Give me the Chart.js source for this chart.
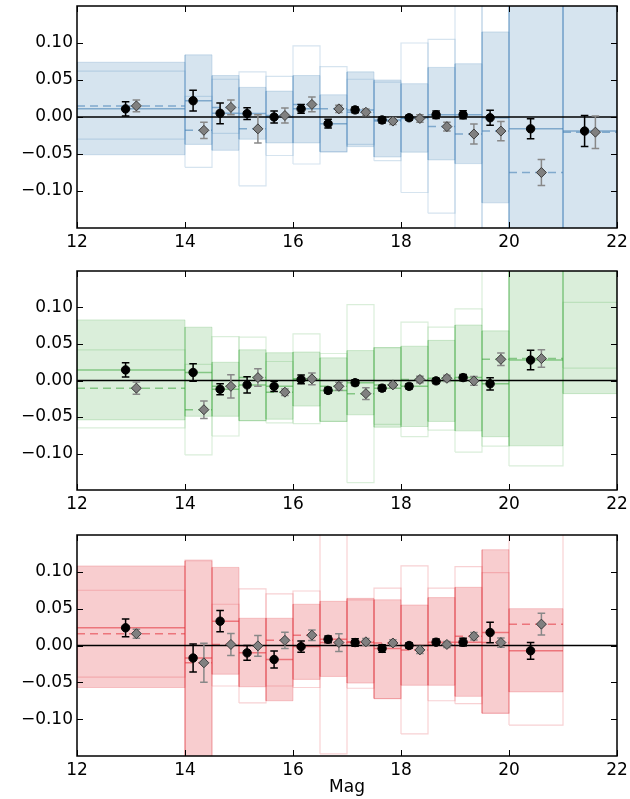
<!DOCTYPE html>
<html>
<head>
<meta charset="utf-8">
<script src="https://cdn.jsdelivr.net/npm/chart.js@4.4.1/dist/chart.umd.min.js"></script>
<style>
  body { margin:0; background:#fff; width:630px; height:799px; position:relative; overflow:hidden; }
  .panel { position:absolute; left:0; width:630px; }
</style>
</head>
<body>
<div class="panel" style="top:0px"><canvas id="c1" width="630" height="258"></canvas></div>
<div class="panel" style="top:265px"><canvas id="c2" width="630" height="255"></canvas></div>
<div class="panel" style="top:529px"><canvas id="c3" width="630" height="270"></canvas></div>
<script>
const binEdges = [12, 14, 14.5, 15, 15.5, 16, 16.5, 17, 17.5, 18, 18.5, 19, 19.5, 20, 21, 22];
const xTicks = [12, 14, 16, 18, 20, 22];
const yTicks = [-0.10, -0.05, 0, 0.05, 0.10];

// top panel (blue)
const blueFillLo = [-0.051, -0.037, -0.045, -0.030, -0.035, -0.035, -0.047, -0.040, -0.054, -0.0475, -0.058, -0.063, -0.116, -0.3, -0.3];
const blueFillHi = [0.074, 0.084, 0.056, 0.040, 0.035, 0.056, 0.030, 0.061, 0.050, 0.045, 0.067, 0.072, 0.115, 0.3, 0.3];
const blueBoxLo = [-0.030, -0.068, -0.022, -0.093, -0.052, -0.0635, -0.047, -0.037, -0.059, -0.102, -0.130, -0.3, -0.3, -0.3, -0.3];
const blueBoxHi = [0.062, 0.028, 0.051, 0.061, 0.055, 0.096, 0.068, 0.051, 0.047, 0.100, 0.105, 0.3, 0.3, 0.3, 0.3];
const blueDotY = [0.011, 0.022, 0.005, 0.0046, 0.0, 0.011, -0.009, 0.0096, -0.004, -0.001, 0.003, 0.003, -0.001, -0.016, -0.019];
const blueDotErr = [0.0096, 0.014, 0.014, 0.008, 0.008, 0.006, 0.006, 0.004, 0.004, 0.0035, 0.005, 0.0055, 0.010, 0.0135, 0.021];
const blueDiaY = [0.015, -0.018, 0.013, -0.016, 0.002, 0.017, 0.011, 0.0064, -0.0055, -0.002, -0.013, -0.023, -0.019, -0.075, -0.0205];
const blueDiaErr = [0.008, 0.011, 0.010, 0.019, 0.010, 0.010, 0.005, 0.0045, 0.0045, 0.005, 0.006, 0.0135, 0.013, 0.0175, 0.022];

// middle panel (green)
const greenFillLo = [-0.054, -0.049, -0.049, -0.055, -0.053, -0.035, -0.056, -0.047, -0.064, -0.063, -0.056, -0.069, -0.077, -0.0895, -0.018];
const greenFillHi = [0.083, 0.073, 0.025, 0.042, 0.038, 0.039, 0.031, 0.041, 0.045, 0.047, 0.055, 0.076, 0.068, 0.3, 0.3];
const greenBoxLo = [-0.065, -0.102, -0.076, -0.055, -0.058, -0.059, -0.056, -0.140, -0.060, -0.077, -0.068, -0.098, -0.090, -0.117, 0.017];
const greenBoxHi = [0.042, 0.022, 0.060, 0.0595, 0.026, 0.064, 0.037, 0.104, 0.045, 0.080, 0.073, 0.098, 0.3, 0.3, 0.107];
const greenDotY = [0.0145, 0.011, -0.012, -0.006, -0.008, 0.0014, -0.0136, -0.003, -0.0105, -0.008, -0.0005, 0.004, -0.0045, 0.028, null];
const greenDotErr = [0.0098, 0.012, 0.0075, 0.011, 0.007, 0.006, 0.004, 0.004, 0.004, 0.0036, 0.0036, 0.0043, 0.0084, 0.0133, null];
const greenDiaY = [-0.0105, -0.040, -0.008, 0.004, -0.016, 0.0023, -0.008, -0.018, -0.006, 0.0014, 0.003, -0.0005, 0.029, 0.030, null];
const greenDiaErr = [0.0085, 0.012, 0.016, 0.012, 0.0045, 0.008, 0.0055, 0.008, 0.004, 0.0045, 0.0043, 0.006, 0.0086, 0.012, null];

// bottom panel (red)
const redFillLo = [-0.057, -0.3, -0.039, -0.056, -0.075, -0.046, -0.042, -0.051, -0.072, -0.054, -0.054, -0.069, -0.092, -0.063, null];
const redFillHi = [0.108, 0.115, 0.106, 0.037, 0.037, 0.056, 0.060, 0.064, 0.062, 0.055, 0.065, 0.079, 0.130, 0.050, null];
const redBoxLo = [-0.043, -0.3, -0.055, -0.078, -0.055, -0.057, -0.147, -0.058, -0.072, -0.120, -0.075, -0.079, -0.092, -0.108, null];
const redBoxHi = [0.075, 0.116, 0.056, 0.077, 0.070, 0.074, 0.3, 0.062, 0.078, 0.108, 0.078, 0.107, 0.099, 0.3, null];
const redDotY = [0.024, -0.017, 0.033, -0.010, -0.019, -0.0015, 0.0084, 0.004, -0.004, 0.0, 0.0045, 0.0045, 0.0176, -0.0072, null];
const redDotErr = [0.012, 0.019, 0.0145, 0.010, 0.0115, 0.0077, 0.0045, 0.005, 0.005, 0.0036, 0.0043, 0.0052, 0.014, 0.0113, null];
const redDiaY = [0.016, -0.0235, 0.0014, -0.0005, 0.007, 0.014, 0.004, 0.005, 0.0034, -0.006, 0.0014, 0.0126, 0.004, 0.029, null];
const redDiaErr = [0.006, 0.0265, 0.015, 0.014, 0.011, 0.0072, 0.012, 0.0045, 0.0043, 0.0048, 0.004, 0.005, 0.0063, 0.0147, null];

const FONT = {family: '"DejaVu Sans", sans-serif', size: 17};
Chart.defaults.color = '#000';
Chart.defaults.font = FONT;

const fmtY = v => v.toFixed(2).replace('-', '\u2212');

// inward ticks on all four sides + black frame
const framePlugin = {
    id: 'frame',
    afterDatasetsDraw(chart){
        const {ctx, chartArea: a, scales: {x, y}} = chart;
        ctx.save();
        ctx.strokeStyle = '#000';
        ctx.lineWidth = 1;
        ctx.beginPath();
        xTicks.forEach(v => {
            const px = Math.round(x.getPixelForValue(v)) + 0.5;
            ctx.moveTo(px, a.bottom); ctx.lineTo(px, a.bottom - 6);
            ctx.moveTo(px, a.top); ctx.lineTo(px, a.top + 6);
        });
        yTicks.forEach(v => {
            const py = Math.round(y.getPixelForValue(v)) + 0.5;
            ctx.moveTo(a.left, py); ctx.lineTo(a.left + 6, py);
            ctx.moveTo(a.right, py); ctx.lineTo(a.right - 6, py);
        });
        ctx.stroke();
        ctx.lineWidth = 1.5;
        ctx.strokeRect(a.left, a.top, a.right - a.left, a.bottom - a.top);
        ctx.restore();
    }
};

function rect(i, lo, hi){
    const a = binEdges[i], b = binEdges[i + 1];
    return [{x:a, y:lo}, {x:b, y:lo}, {x:b, y:hi}, {x:a, y:hi}, {x:a, y:lo}];
}

function makePanel(id, p, xAxisH, showTitle){
    const rgba = a => `rgba(${p.rgb},${a})`;
    const centers = binEdges.slice(0, -1).map((e, i) => (e + binEdges[i + 1]) / 2);
    const ds = [];

    // shaded boxes
    p.fillLo.forEach((lo, i) => {
        if (lo == null) return;
        ds.push({data: rect(i, lo, p.fillHi[i]), fill: 'shape', backgroundColor: rgba(p.fa),
                 borderColor: rgba(p.ea), borderWidth: 1, pointRadius: 0, order: 60});
    });
    // open boxes
    p.boxLo.forEach((lo, i) => {
        if (lo == null) return;
        ds.push({data: rect(i, lo, p.boxHi[i]), fill: false,
                 borderColor: rgba(p.oa), borderWidth: 1.2, pointRadius: 0, order: 50});
    });
    // medians: solid for dots, dashed for diamonds
    const solid = [], dashed = [];
    centers.forEach((c, i) => {
        const a = binEdges[i], b = binEdges[i + 1];
        if (p.dotY[i] != null) solid.push({x:a, y:p.dotY[i]}, {x:b, y:p.dotY[i]}, {x:b, y:null});
        if (p.diaY[i] != null) dashed.push({x:a, y:p.diaY[i]}, {x:b, y:p.diaY[i]}, {x:b, y:null});
    });
    ds.push({data: solid, borderColor: rgba(p.la), borderWidth: 1.5, pointRadius: 0, order: 40});
    ds.push({data: dashed, borderColor: rgba(p.la), borderWidth: 1.5, borderDash: [8, 5], pointRadius: 0, order: 40});

    // zero line
    ds.push({data: [{x:12, y:0}, {x:22, y:0}], borderColor: '#000', borderWidth: 1.5, pointRadius: 0, order: 30});

    // error bars
    const cap = 0.07;
    const errLines = (ys, es, off) => {
        const out = [];
        centers.forEach((c, i) => {
            if (ys[i] == null) return;
            const x = c + off, lo = ys[i] - es[i], hi = ys[i] + es[i];
            out.push({x, y:lo}, {x, y:hi}, {x, y:null},
                     {x:x - cap, y:lo}, {x:x + cap, y:lo}, {x:x + cap, y:null},
                     {x:x - cap, y:hi}, {x:x + cap, y:hi}, {x:x + cap, y:null});
        });
        return out;
    };
    ds.push({data: errLines(p.diaY, p.diaErr, 0.1), borderColor: '#888', borderWidth: 1.5, pointRadius: 0, order: 20});
    ds.push({data: errLines(p.dotY, p.dotErr, -0.1), borderColor: '#000', borderWidth: 1.5, pointRadius: 0, order: 20});

    // markers
    const pts = (ys, off) => centers.map((c, i) => ys[i] == null ? null : {x: c + off, y: ys[i]}).filter(d => d);
    ds.push({data: pts(p.diaY, 0.1), showLine: false, pointStyle: 'rectRot', pointRadius: 5,
             pointBackgroundColor: '#808080', pointBorderColor: '#3a3a3a', pointBorderWidth: 1, order: 10});
    ds.push({data: pts(p.dotY, -0.1), showLine: false, pointStyle: 'circle', pointRadius: 4.2,
             pointBackgroundColor: '#000', pointBorderColor: '#000', pointBorderWidth: 1, order: 5});

    new Chart(document.getElementById(id), {
        type: 'line',
        data: {datasets: ds},
        options: {
            responsive: false, animation: false, events: [],
            layout: {padding: {top: 6, left: 0, right: 13, bottom: 0}},
            elements: {line: {tension: 0}},
            plugins: {legend: {display: false}, tooltip: {enabled: false}},
            scales: {
                x: {
                    type: 'linear', min: 12, max: 22,
                    afterBuildTicks: s => { s.ticks = xTicks.map(v => ({value: v})); },
                    afterFit: s => { s.height = xAxisH; s.paddingLeft = 0; s.paddingRight = 0; },
                    grid: {display: false, drawTicks: false}, border: {display: false},
                    ticks: {padding: 4, autoSkip: false, maxRotation: 0, callback: v => String(v)},
                    title: {display: showTitle, text: 'Mag', padding: {top: 0, bottom: 1}}
                },
                y: {
                    type: 'linear', min: -0.15, max: 0.15,
                    afterBuildTicks: s => { s.ticks = yTicks.map(v => ({value: v})); },
                    afterFit: s => { s.width = 77; s.paddingTop = 0; s.paddingBottom = 0; },
                    grid: {display: false, drawTicks: false}, border: {display: false},
                    ticks: {padding: 4, callback: v => fmtY(v)}
                }
            }
        },
        plugins: [framePlugin]
    });
}

makePanel('c1', {rgb: '70,130,180', fa: 0.22, ea: 0.22, oa: 0.22, la: 0.6,
    fillLo: blueFillLo, fillHi: blueFillHi, boxLo: blueBoxLo, boxHi: blueBoxHi,
    dotY: blueDotY, dotErr: blueDotErr, diaY: blueDiaY, diaErr: blueDiaErr}, 30, false);

makePanel('c2', {rgb: '50,160,50', fa: 0.18, ea: 0.2, oa: 0.18, la: 0.5,
    fillLo: greenFillLo, fillHi: greenFillHi, boxLo: greenBoxLo, boxHi: greenBoxHi,
    dotY: greenDotY, dotErr: greenDotErr, diaY: greenDiaY, diaErr: greenDiaErr}, 30, false);

makePanel('c3', {rgb: '225,45,55', fa: 0.24, ea: 0.22, oa: 0.22, la: 0.55,
    fillLo: redFillLo, fillHi: redFillHi, boxLo: redBoxLo, boxHi: redBoxHi,
    dotY: redDotY, dotErr: redDotErr, diaY: redDiaY, diaErr: redDiaErr}, 43, true);
</script>
</body>
</html>
